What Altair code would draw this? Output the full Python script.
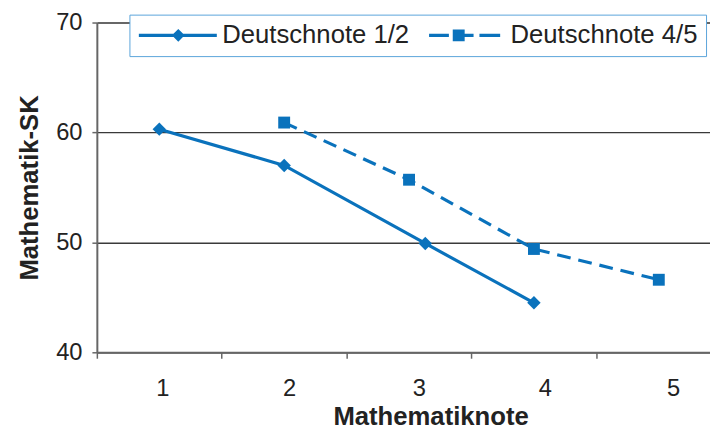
import altair as alt
import pandas as pd

# ---- data ----
series_names = ["Deutschnote 1/2", "Deutschnote 4/5"]
s1_x = [1, 2, 3.13, 4]
s1_y = [60.3, 57.0, 49.9, 44.5]
s2_x = [2, 3, 4, 5]
s2_y = [60.9, 55.7, 49.4, 46.6]

rows = []
for xv, yv in zip(s1_x, s1_y):
    rows.append({"series": series_names[0], "x": xv, "y": yv})
for xv, yv in zip(s2_x, s2_y):
    rows.append({"series": series_names[1], "x": xv, "y": yv})
df = pd.DataFrame(rows)

BLUE = "#0A72BC"
TEXT = "#222222"
FONT = "Liberation Sans"

# axis tick values: category boundaries (ticks only) and label positions (labels only)
x_tick_values = [0.5, 1.024, 1.5, 2.039, 2.5, 3.079, 3.5, 4.087, 4.5, 5.114]
boundary_test = "(datum.value % 1) == 0.5"

x_enc = alt.X(
    "x:Q",
    scale=alt.Scale(domain=[0.5, 5.41], nice=False, zero=False),
    axis=alt.Axis(
        values=x_tick_values,
        labelExpr=f"{boundary_test} ? '' : format(round(datum.value), 'd')",
        tickOpacity={"condition": {"test": boundary_test, "value": 1}, "value": 0},
        grid=False, tickSize=6, tickWidth=1.5, tickColor="#666666",
        domainColor="#666666", domainWidth=2,
        labelFontSize=24, labelFont=FONT, labelColor=TEXT, labelPadding=19,
        labelOverlap=False, labelFlush=False,
        title="Mathematiknote", titleFont=FONT, titleFontSize=26,
        titleFontWeight="bold", titleColor=TEXT, titlePadding=3, titleX=338,
    ),
)

y_enc = alt.Y(
    "y:Q",
    scale=alt.Scale(domain=[40, 70], nice=False, zero=False),
    axis=alt.Axis(
        values=[40, 50, 60, 70], grid=True, gridColor="#3a3a3a", gridWidth=1.5,
        tickSize=5, tickWidth=1.5, tickColor="#666666",
        domainColor="#666666", domainWidth=2,
        labelFontSize=24, labelFont=FONT, labelColor=TEXT, labelPadding=10,
        title="Mathematik-SK", titleFont=FONT, titleFontSize=26,
        titleFontWeight="bold", titleColor=TEXT, titlePadding=13,
    ),
)

base = alt.Chart(df)
only_1 = alt.datum.series == series_names[0]
only_2 = alt.datum.series == series_names[1]

line_1 = base.transform_filter(only_1).mark_line(color=BLUE, strokeWidth=3.2).encode(
    x=x_enc, y=y_enc)
line_2 = base.transform_filter(only_2).mark_line(
    color=BLUE, strokeWidth=3.2, strokeDash=[14, 8]).encode(x="x:Q", y="y:Q")

points_1 = base.transform_filter(only_1).mark_point(
    filled=True, color=BLUE, opacity=1, shape="diamond", size=185).encode(x="x:Q", y="y:Q")
points_2 = base.transform_filter(only_2).mark_point(
    filled=True, color=BLUE, opacity=1, shape="square", size=145).encode(x="x:Q", y="y:Q")

# legend symbols: line + marker, drawn as filled custom symbol paths
legend_sym_1 = (
    "M-1.35,-0.18L7.94,-0.18L7.94,0.18L-1.35,0.18Z"
    "M3.35,-0.76L4.11,0L3.35,0.76L2.59,0Z"
)
legend_sym_2 = (
    "M-1.12,-0.18L1.24,-0.18L1.24,0.18L-1.12,0.18Z"
    "M2.0,-0.18L4.18,-0.18L4.18,0.18L2.0,0.18Z"
    "M4.88,-0.18L7.35,-0.18L7.35,0.18L4.88,0.18Z"
    "M1.70,-0.71L3.12,-0.71L3.12,0.71L1.70,0.71Z"
)

legend_layer = base.transform_filter("false").mark_point(
    filled=True, color=BLUE, opacity=1, size=289
).encode(
    x="x:Q", y="y:Q",
    shape=alt.Shape(
        "series:N",
        scale=alt.Scale(domain=series_names, range=[legend_sym_1, legend_sym_2]),
        legend=alt.Legend(
            title=None, orient="none", legendX=33, legendY=-8,
            direction="horizontal",
            labelFontSize=26, labelFont=FONT, labelColor=TEXT, labelLimit=0,
            labelOffset=60, symbolSize=289,
            symbolFillColor=BLUE, symbolOpacity=1,
            columnPadding=16, padding=8,
            strokeColor="#5AA5DA", fillColor="white", cornerRadius=0,
        ),
    ),
)

chart = (
    alt.layer(line_1, line_2, points_1, points_2, legend_layer)
    .properties(width=621, height=334, padding={"left": 9, "top": 0, "right": 0, "bottom": 0})
    .configure_view(stroke=None)
    .configure_legend(strokeWidth=2)
    .configure(background="white")
)

chart.save("out.html", embed_options={"renderer": "svg", "actions": False})
